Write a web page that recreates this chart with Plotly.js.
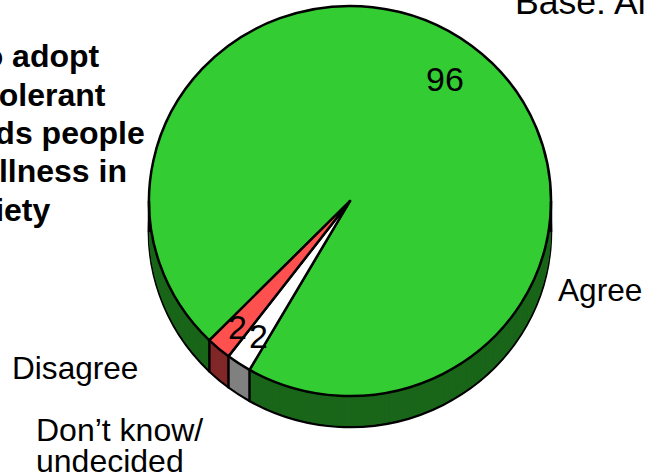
<!DOCTYPE html>
<html><head><meta charset="utf-8">
<script src="https://cdn.plot.ly/plotly-3.0.1.min.js"></script>
<style>html,body{margin:0;padding:0;background:#fff;overflow:hidden}</style>
</head><body><div id="chart" style="width:645px;height:475px"></div>
<script>
const categories = ["Agree", "Don\u2019t know/ undecided", "Disagree"];
const values = [96, 2, 2];
const topColors = ["#33CC33", "#FFFFFF", "#FF5050"];
const sideColors = ["#1A661A", "#808080", "#802828"];
const questionLines = ["to adopt", "more tolerant", "towards people", "illness in", "society"];
const questionEnds = [100, 106, 145, 127, 50];
const baseText = "Base: All";

const W = 645, H = 475, D = 31, L = 149, R = 551, RY = 195;
const ROT = 224.4;
const px = x => x / W, py = y => 1 - y / H;
const cx = (L + R) / 2, rad = (R - L) / 2, cy = rad, k = RY / rad;

function pie(off, colors, lw) {
  const o = off / k;
  return {
    type: "pie", labels: categories, values: values, sort: false, direction: "clockwise",
    rotation: ROT, textinfo: "none", hoverinfo: "skip", showlegend: false,
    domain: { x: [px(L), px(R)], y: [py(2 * rad + o), py(o)] },
    marker: { colors: colors, line: { color: "#000", width: lw } }
  };
}
const traces = [pie(D, sideColors, 2.5)];
for (let d = D - 1; d >= 1; d--) traces.push(pie(d, sideColors, 0));
traces.push(pie(0, topColors, 2.5));

// Wall edges derive from the slice boundaries
const total = values.reduce((a, b) => a + b, 0);
const shapes = [];
function edge(x, y) {
  shapes.push({ type: "line", xref: "paper", yref: "paper", x0: px(x), x1: px(x), y0: py(y), y1: py(y + D),
    line: { color: "#000", width: 2.5 } });
}
let acc = 0;
values.forEach(v => {
  const a = (ROT + acc / total * 360) * Math.PI / 180;
  edge(cx + rad * Math.sin(a), cy - RY * Math.cos(a));
  acc += v;
});
edge(L, cy); edge(R, cy);

function note(text, x, y, anchor, size) {
  return { text: text, xref: "paper", yref: "paper", x: px(x), y: py(y), xanchor: anchor || "left",
    yanchor: "middle", showarrow: false, align: "left", borderpad: 0, borderwidth: 0,
    font: { family: "Liberation Sans, Arial, sans-serif", size: size || 32, color: "#000" } };
}
const anns = [
  note(String(values[0]), 444.5, 79, "center", 34),
  note(String(values[2]), 237, 327, "center", 34),
  note(String(values[1]), 258, 336, "center", 34),
  note(categories[0], 558, 290, "left", 31.6),
  note(categories[2], 12, 368, "left", 31.6),
  note("Don\u2019t know/", 36, 430),
  note("undecided", 36, 461),
  note(baseText, 515, 2, "left", 35.6)
];
questionLines.forEach((t, i) => {
  anns.push(note("<b>" + t + "</b>", questionEnds[i], 56 + i * 38.5, "right"));
});

Plotly.newPlot("chart", traces, {
  width: W, height: H, margin: { l: 0, r: 0, t: 0, b: 0 },
  paper_bgcolor: "#fff", showlegend: false, shapes: shapes, annotations: anns
}, { displayModeBar: false, staticPlot: true }).then(gd => {
  // The reference pie is a slightly flattened ellipse
  document.querySelectorAll("#chart .pielayer").forEach(g =>
    g.setAttribute("transform", "translate(0," + (cy * (1 - k)) + ") scale(1," + k + ")"));
});
</script></body></html>
